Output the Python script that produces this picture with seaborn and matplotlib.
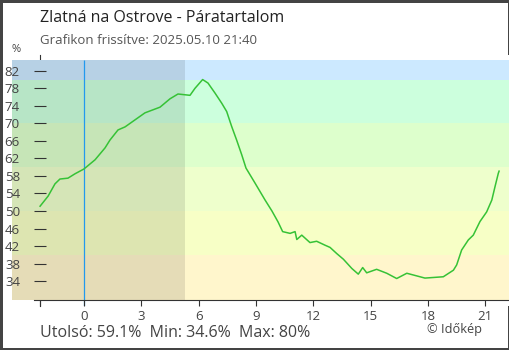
import numpy as np
import pandas as pd
import matplotlib
matplotlib.use("Agg")
import matplotlib.pyplot as plt
import seaborn as sb

# adatok (óra, páratartalom %)
hours = [-2.30, -1.88, -1.52, -1.26, -0.84, -0.47, 0.00, 0.58, 1.10, 1.36,
         1.78, 2.15, 2.67, 3.19, 3.98, 4.50, 4.92, 5.55, 5.81, 6.21,
         6.49, 6.86, 7.21, 7.47, 7.73, 7.99, 8.26, 8.48, 8.95, 9.48,
         9.84, 10.16, 10.40, 10.79, 11.05, 11.14, 11.40, 11.83, 12.18, 12.62,
         12.88, 13.23, 13.58, 14.02, 14.36, 14.59, 14.80, 15.32, 15.85, 16.37,
         16.90, 17.85, 18.81, 19.34, 19.51, 19.77, 20.12, 20.38, 20.73, 21.08,
         21.35, 21.52, 21.69, 21.73]
humidity = [51.1, 53.4, 56.2, 57.3, 57.5, 58.5, 59.6, 61.7, 64.4, 66.2,
            68.5, 69.2, 70.8, 72.4, 73.7, 75.6, 76.7, 76.4, 78.0, 80.0,
            79.2, 76.9, 74.6, 72.7, 69.3, 66.2, 62.8, 59.8, 56.4, 52.5,
            50.0, 47.5, 45.3, 44.9, 45.3, 43.5, 44.5, 42.8, 43.1, 42.2,
            41.7, 40.3, 39.0, 36.9, 35.6, 37.1, 35.9, 36.7, 35.8, 34.6,
            35.8, 34.7, 35.0, 36.5, 37.7, 41.1, 43.4, 44.5, 47.6, 49.8,
            52.5, 55.6, 58.6, 59.1]
x_ticks = [0, 3, 6, 9, 12, 15, 18, 21]
y_ticks = [34, 38, 42, 46, 50, 54, 58, 62, 66, 70, 74, 78, 82]
band_edges = [29.7, 40, 50, 60, 70, 80, 84.5]
band_colors = ["#fff6cc", "#f7ffc6", "#eeffcc", "#ddffcc", "#ccffdd", "#cce9ff"]
night_end = 5.29

df = pd.DataFrame({"ora": hours, "para": humidity})

plt.rcParams["font.family"] = ["Open Sans", "DejaVu Sans"]
fig = plt.figure(figsize=(5.1, 3.5), dpi=100)
fig.patch.set_edgecolor("#444444")
fig.patch.set_linewidth(2.5)
ax = fig.add_axes([12 / 510, 1 - 306 / 350, 497 / 510, 251 / 350])

xmin, xmax = -3.77, 22.25
ax.set_xlim(xmin, xmax)
ax.set_ylim(28.33, 85.6)

# sávok
for lo, hi, c in zip(band_edges[:-1], band_edges[1:], band_colors):
    ax.fill_between([xmin, xmax], lo, hi, color=c, lw=0, zorder=1)
# éjszaka
ax.fill_between([xmin, night_end], band_edges[0], band_edges[-1],
                color="black", alpha=0.1, lw=0, zorder=1.2)
ax.vlines(0, 28.33, band_edges[-1], color="#2299ee", lw=0.9, zorder=1.5)

sb.lineplot(data=df, x="ora", y="para", ax=ax, color="#36c236", lw=1.1, zorder=3)

ax.set_xlabel("")
ax.set_ylabel("")
ax.spines["top"].set_visible(False)
ax.spines["right"].set_visible(False)
ax.spines["left"].set_position(("data", hours[0]))
ax.spines["left"].set_zorder(0.5)
ax.spines["left"].set_color("#333333")
ax.spines["bottom"].set_position(("data", band_edges[0]))
ax.spines["bottom"].set_bounds(-2.62, xmax)
ax.spines["bottom"].set_color("#333333")
ax.spines["bottom"].set_linewidth(0.8)

ax.set_xticks([hours[0]] + x_ticks)
ax.set_xticklabels([""] + [str(t) for t in x_ticks])
ax.set_yticks(y_ticks)
ax.set_yticklabels([str(t) for t in y_ticks])
ax.tick_params(axis="x", direction="out", length=4.5, width=0.8, color="#333333",
               labelsize=9.5, labelcolor="#444444", pad=3)
ax.tick_params(axis="y", direction="inout", length=9, width=0.8, color="#333333",
               labelsize=9.5, labelcolor="#444444", pad=10)

fig.text(40 / 510, 1 - 18 / 350, "Zlatná na Ostrove - Páratartalom",
         fontsize=11.5, color="#222222", va="center", ha="left")
fig.text(40 / 510, 1 - 41 / 350, "Grafikon frissítve: 2025.05.10 21:40",
         fontsize=9.5, color="#555555", va="center", ha="left")
fig.text(12 / 510, 1 - 50 / 350, "%", fontsize=8, color="#444444", va="center", ha="left")
fig.text(40 / 510, 1 - 333 / 350,
         f"Utolsó: {humidity[-1]}%  Min: {min(humidity)}%  Max: {max(humidity):g}%",
         fontsize=11.5, color="#444444", va="center", ha="left")
fig.text(482 / 510, 1 - 330 / 350, "© Időkép", fontsize=9.2, color="#444444",
         va="center", ha="right")

fig.savefig("out.png", dpi=100)
